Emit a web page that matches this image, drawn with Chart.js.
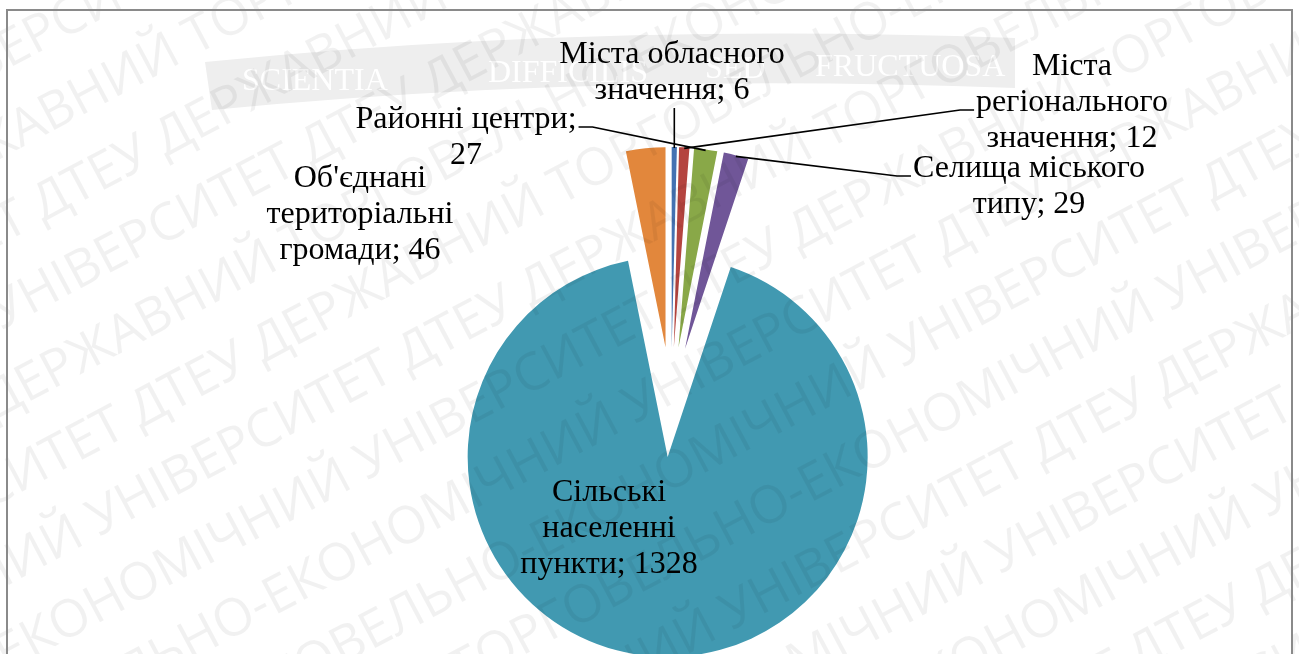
<!DOCTYPE html>
<html lang="uk">
<head>
<meta charset="utf-8">
<script src="https://cdn.jsdelivr.net/npm/chart.js@4.4.1/dist/chart.umd.min.js"></script>
<style>
  html, body { margin: 0; padding: 0; background: #fff; }
  canvas { display: block; }
</style>
</head>
<body>
<canvas id="pieChart" width="1299" height="654"></canvas>
<script>
// ---------------- Chart data ---------------------------------------------
const categories = [
    'Міста обласного значення',
    'Міста регіонального значення',
    'Районні центри',
    'Селища міського типу',
    'Сільські населенні пункти',
    "Об'єднані територіальні громади"
] ;
const values = [ 6, 12, 27, 29, 1328, 46 ] ;

// ---------------- Look & layout ------------------------------------------
const sliceColors = [ '#4472b2', '#b4443f', '#89a848', '#705698', '#4199b1', '#e2873c' ] ;
const explodePx = 55 ;
const labelFont = '32px "Liberation Serif", "Times New Roman", serif' ;
const labelLineHeight = 36 ;
// x = centre of the text block, y = baseline of its first line, wrap = max line width,
// leader = side the leader line leaves from, row = the line it leaves from
const labelLayout = [
    { x: 672,  y: 63,  wrap: 250, leader: 'bottom' },
    { x: 1072, y: 75,  wrap: 205, leader: 'left',  row: 1 },
    { x: 466,  y: 128, wrap: 245, leader: 'right', row: 0 },
    { x: 1029, y: 177, wrap: 250, leader: 'left',  row: 0 },
    { x: 609,  y: 501, wrap: 195, leader: null },
    { x: 360,  y: 187, wrap: 190, leader: null }
] ;
const watermarkPhrase = 'ДТЕУ ДЕРЖАВНИЙ ТОРГОВЕЛЬНО-ЕКОНОМІЧНИЙ УНІВЕРСИТЕТ ' ;
const mottoWords = [ 'SCIENTIA', 'DIFFICILIS', 'SED', 'FRUCTUOSA' ] ;

// ---------------- Helpers ------------------------------------------------
function wrapText( ctx, text, maxWidth ) {
    const words = text.split( ' ' ) ;
    const lines = [] ;
    let line = '' ;
    words.forEach( w => {
        const probe = line ? line + ' ' + w : w ;
        if ( line && ctx.measureText( probe ).width > maxWidth ) {
            lines.push( line ) ;
            line = w ;
        } else {
            line = probe ;
        }
    } ) ;
    if ( line ) lines.push( line ) ;
    return lines ;
}

function drawBanner( ctx ) {
    ctx.save() ;
    ctx.fillStyle = '#eeeeee' ;
    ctx.beginPath() ;
    ctx.moveTo( 205, 62 ) ;
    ctx.quadraticCurveTo( 600, 22, 1015, 38 ) ;
    ctx.lineTo( 1015, 88 ) ;
    ctx.quadraticCurveTo( 600, 72, 212, 110 ) ;
    ctx.closePath() ;
    ctx.fill() ;
    ctx.fillStyle = '#ffffff' ;
    ctx.font = '32px "Liberation Serif", serif' ;
    const xs = [ 242, 488, 705, 815 ] ;
    const ys = [ 90, 82, 78, 76 ] ;
    mottoWords.forEach( ( w, i ) => ctx.fillText( w, xs[ i ], ys[ i ] ) ) ;
    ctx.restore() ;
}

function drawWatermark( ctx ) {
    ctx.save() ;
    ctx.fillStyle = 'rgba(0, 0, 0, 0.055)' ;
    ctx.font = '52px "Open Sans", sans-serif' ;
    ctx.translate( 650, 330 ) ;
    ctx.rotate( -28 * Math.PI / 180 ) ;
    const row = watermarkPhrase.repeat( 4 ) ;
    for ( let k = -8; k <= 8; k++ ) {
        ctx.fillText( row, -1600 + ( ( k * 263 ) % 800 ), k * 76 ) ;
    }
    ctx.restore() ;
}

// ---------------- Plugins ------------------------------------------------
// Excel style "point explosion": every slice moved out along its bisector
const explodePlugin = {
    id: 'explode',
    afterDatasetUpdate( chart, args ) {
        args.meta.data.forEach( arc => {
            const mid = ( arc.startAngle + arc.endAngle ) / 2 ;
            arc.x += Math.cos( mid ) * explodePx ;
            arc.y += Math.sin( mid ) * explodePx ;
        } ) ;
    }
} ;

const decorPlugin = {
    id: 'decor',
    beforeDatasetsDraw( chart ) {
        drawBanner( chart.ctx ) ;
    },
    afterDatasetsDraw( chart ) {
        const ctx = chart.ctx ;
        drawWatermark( ctx ) ;

        const arcs = chart.getDatasetMeta( 0 ).data ;
        ctx.save() ;
        ctx.font = labelFont ;
        ctx.fillStyle = '#000' ;
        ctx.strokeStyle = '#000' ;
        ctx.lineWidth = 1.6 ;
        ctx.textAlign = 'center' ;
        ctx.textBaseline = 'alphabetic' ;

        categories.forEach( ( name, i ) => {
            const lay = labelLayout[ i ] ;
            const lines = wrapText( ctx, name + '; ' + values[ i ], lay.wrap ) ;
            lines.forEach( ( ln, k ) => ctx.fillText( ln, lay.x, lay.y + k * labelLineHeight ) ) ;

            if ( !lay.leader ) return ;
            const arc = arcs[ i ] ;
            const mid = ( arc.startAngle + arc.endAngle ) / 2 ;
            const tx = arc.x + Math.cos( mid ) * ( arc.outerRadius - 1 ) ;
            const ty = arc.y + Math.sin( mid ) * ( arc.outerRadius - 1 ) ;

            ctx.beginPath() ;
            if ( lay.leader === 'bottom' ) {
                const by = lay.y + ( lines.length - 1 ) * labelLineHeight + 9 ;
                ctx.moveTo( tx, by ) ;
                ctx.lineTo( tx, ty ) ;
            } else {
                const row = lay.row || 0 ;
                const w = ctx.measureText( lines[ row ] ).width ;
                const ly = lay.y + row * labelLineHeight - 1 ;
                const dir = lay.leader === 'right' ? 1 : -1 ;
                const sx = lay.x + dir * ( w / 2 + 2 ) ;
                ctx.moveTo( sx, ly ) ;
                ctx.lineTo( sx + dir * 14, ly ) ;
                ctx.lineTo( tx, ty ) ;
            }
            ctx.stroke() ;
        } ) ;
        ctx.restore() ;
    },
    afterDraw( chart ) {
        const ctx = chart.ctx ;
        ctx.save() ;
        ctx.strokeStyle = '#8a8a8a' ;
        ctx.lineWidth = 2 ;
        ctx.strokeRect( 7, 10, 1285, 700 ) ;
        ctx.restore() ;
    }
} ;

// ---------------- Chart ---------------------------------------------------
const chart = new Chart( document.getElementById( 'pieChart' ), {
    type: 'pie',
    data: {
        labels: categories,
        datasets: [ {
            data: values,
            backgroundColor: sliceColors,
            borderWidth: 0,
            offset: 0,
            hoverOffset: 0,
            radius: 200
        } ]
    },
    options: {
        responsive: false,
        animation: false,
        events: [],
        layout: { padding: { left: 43, right: 0, top: 150, bottom: 0 } },
        plugins: {
            legend: { display: false },
            tooltip: { enabled: false }
        }
    },
    plugins: [ explodePlugin, decorPlugin ]
} ) ;
</script>
</body>
</html>
